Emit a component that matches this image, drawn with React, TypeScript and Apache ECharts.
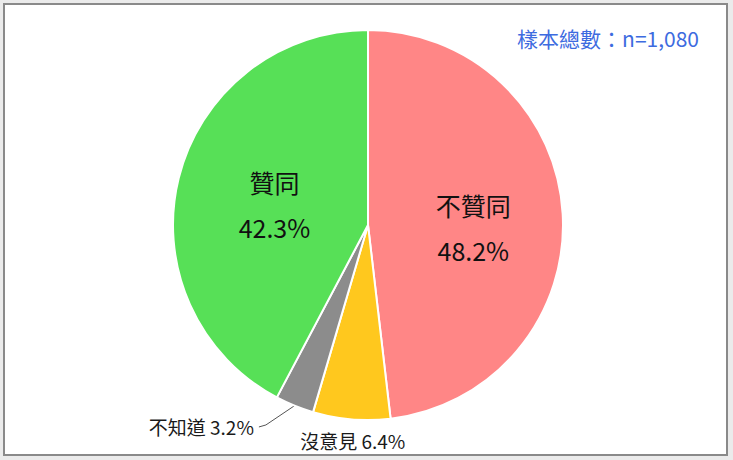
import { useEffect, useRef } from 'react'
import * as echarts from 'echarts'

const categories = ['不贊同', '沒意見', '不知道', '贊同']
const percents = [48.2, 6.4, 3.2, 42.3]
const sliceColors = ['#ff8686', '#ffc81e', '#8c8c8c', '#57e057']
const sampleNote = '樣本總數：n=1,080'

const FONT = '"Noto Sans CJK TC", "Noto Sans", sans-serif'

export default function App() {
  const chartRef = useRef<HTMLDivElement>(null)

  useEffect(() => {
    if (!chartRef.current) return
    document.body.style.margin = '0'

    const chart = echarts.init(chartRef.current, null, { renderer: 'svg' })

    // 圓餅內標籤（大）與外標籤（小）
    const insideLabel = {
      position: 'inside',
      formatter: '{b}\n{c}%',
      fontSize: 25,
      lineHeight: 45,
      color: '#111',
      fontFamily: FONT,
    }
    const outsideLabel = {
      position: 'outside',
      formatter: '{b} {c}%',
      fontSize: 19,
      color: '#1a1a1a',
      fontFamily: FONT,
    }

    const data = categories.map((name, i) => {
      const item: any = {
        name,
        value: percents[i],
        itemStyle: { color: sliceColors[i] },
      }
      if (name === '不贊同') {
        item.label = { ...insideLabel, offset: [5, 8] }
      } else if (name === '贊同') {
        item.label = { ...insideLabel, offset: [4, 4] }
      } else if (name === '沒意見') {
        item.label = { ...outsideLabel }
        item.labelLine = { show: false, length: 21, length2: 0 }
      } else {
        item.label = { ...outsideLabel, padding: [0, 0, 12, 0] }
        item.labelLine = {
          show: true,
          length: 23,
          length2: 27,
          lineStyle: { color: '#555', width: 1 },
        }
      }
      return item
    })

    const option: echarts.EChartsOption = {
      animation: false,
      backgroundColor: '#ebebeb',
      title: {
        text: sampleNote,
        right: 29,
        top: 22,
        textStyle: {
          color: '#3d6be0',
          fontSize: 21,
          fontWeight: 'normal',
          fontFamily: FONT,
        },
      },
      graphic: [
        {
          type: 'rect',
          z: -10,
          shape: { x: 4, y: 4, width: 723, height: 451 },
          style: { fill: '#fff', stroke: '#8a8a8a', lineWidth: 2 },
        },
      ],
      series: [
        {
          type: 'pie',
          center: [368, 225],
          radius: 195,
          startAngle: 90,
          clockwise: true,
          avoidLabelOverlap: false,
          itemStyle: { borderColor: '#fff', borderWidth: 2 },
          emphasis: { disabled: true },
          data,
          labelLayout: (params: any) => {
            const name = categories[params.dataIndex]
            if (name === '沒意見') {
              return { align: 'center', dx: 8 }
            }
            if (name === '不知道' && params.labelLinePoints) {
              const pts = params.labelLinePoints
              const end = pts[pts.length - 1]
              return {
                labelLinePoints: [pts[0], [end[0] + 7, end[1] - 2], end],
              }
            }
            return {}
          },
        },
      ],
    }

    chart.setOption(option)

    return () => {
      chart.dispose()
    }
  }, [])

  return <div ref={chartRef} style={{ width: '733px', height: '460px' }} />
}
